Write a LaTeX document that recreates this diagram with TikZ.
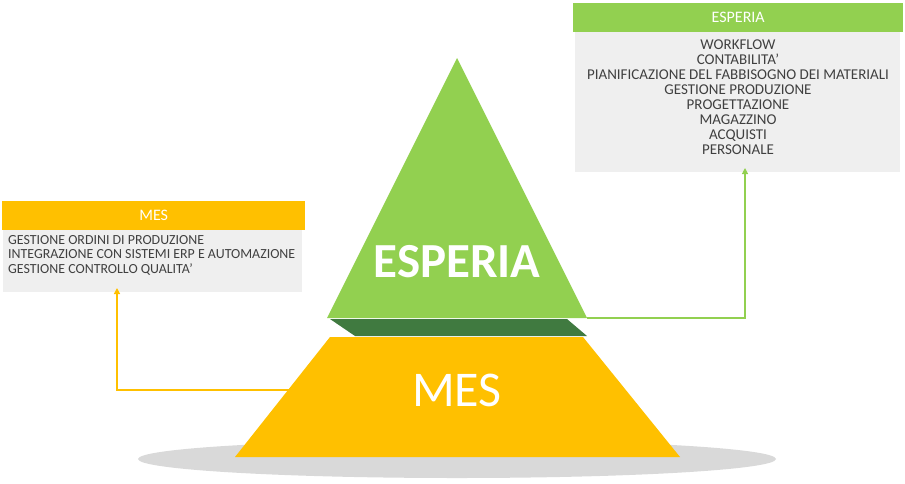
\documentclass[tikz,border=0pt]{standalone}
\usepackage{fontspec}
\setmainfont{Carlito}
\usetikzlibrary{arrows.meta}
\definecolor{pgreen}{HTML}{92D050}
\definecolor{dgreen}{HTML}{407A40}
\definecolor{pyellow}{HTML}{FFC000}
\definecolor{boxgray}{HTML}{EFEFEF}
\definecolor{txtgray}{HTML}{404040}
\definecolor{elgray}{HTML}{D9D9D9}
\tikzset{
  header/.style={minimum height=29pt, inner sep=0pt, text=white, font=\fontsize{16}{16}\selectfont},
  conn/.style={line width=1.2pt, -{Triangle[length=6pt,width=6pt]}},
}
\begin{document}
\begin{tikzpicture}[x=1pt,y=-1pt]
\useasboundingbox (0,0) rectangle (905,483);
% ellipse shadow
\fill[elgray] (457,459) ellipse [x radius=319, y radius=19];
% yellow trapezoid
\fill[pyellow] (330,337) -- (583,337) -- (680,457) -- (235,457) -- cycle;
% dark green band
\fill[dgreen] (330,319) -- (567,319) -- (587,336) -- (355,336) -- cycle;
% green triangle
\fill[pgreen] (457,58) -- (587,318) -- (327,318) -- cycle;
\node[text=white, font=\fontsize{49}{49}\selectfont\bfseries] (tri) at (457,262) {ESPERIA};
\node[text=white, font=\fontsize{50}{50}\selectfont] (trap) at (457,390) {MES};
\coordinate (gout) at (587,318);
\coordinate (yout) at (289,390);

% ESPERIA box
\fill[boxgray] (575,32) rectangle (900,172);
\node[header, fill=pgreen, minimum width=330pt, anchor=north west] (eh) at (573,3) {ESPERIA};
\node[text=txtgray, font=\fontsize{15}{15}\selectfont, align=center, anchor=north] (eb) at (738,36) {WORKFLOW\\CONTABILITA'\\PIANIFICAZIONE DEL FABBISOGNO DEI MATERIALI\\GESTIONE PRODUZIONE\\PROGETTAZIONE\\MAGAZZINO\\ACQUISTI\\PERSONALE};
\coordinate (ebot) at (745,172);

% MES box
\fill[boxgray] (3,230) rectangle (302,292);
\node[header, fill=pyellow, minimum width=303pt, anchor=north west] (mh) at (2,201) {MES};
\node[text=txtgray, font=\fontsize{13.9}{14.5}\selectfont, align=left, anchor=north west, inner sep=0pt] (mb) at (8,235) {GESTIONE ORDINI DI PRODUZIONE\\INTEGRAZIONE CON SISTEMI ERP E AUTOMAZIONE\\GESTIONE CONTROLLO QUALITA'};
\coordinate (mbot) at (117,292);

% connectors
\draw[conn, draw=pgreen] (gout) -| ([yshift=4pt]ebot);
\draw[conn, draw=pyellow] (yout) -| ([yshift=4pt]mbot);
\end{tikzpicture}
\end{document}
